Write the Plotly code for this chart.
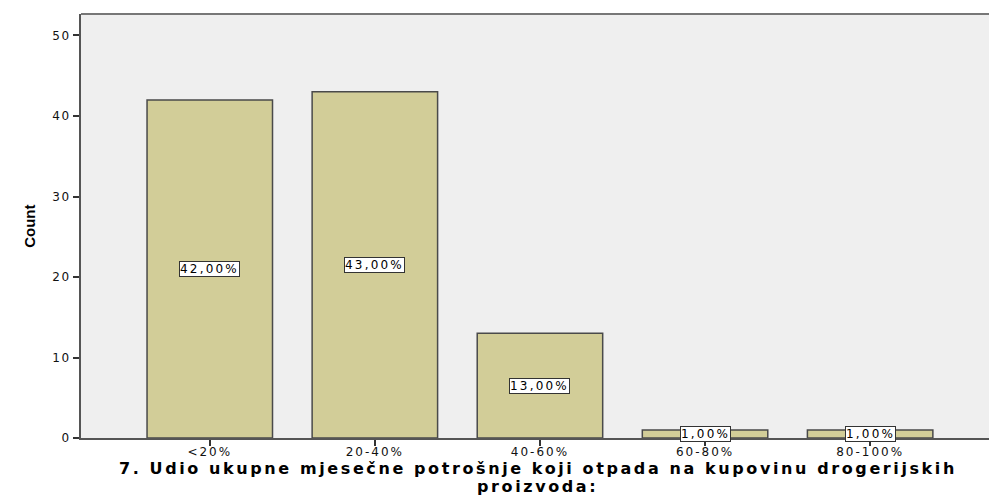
import plotly.graph_objects as go

categories = ["<20%", "20-40%", "40-60%", "60-80%", "80-100%"]
counts = [42, 43, 13, 1, 1]
pct_labels = ["42,00%", "43,00%", "13,00%", "1,00%", "1,00%"]
y_ticks = [0, 10, 20, 30, 40, 50]
title_lines = ["7. Udio ukupne mjesečne potrošnje koji otpada na kupovinu drogerijskih",
               "proizvoda:"]


def spaced(s, px):
    return f'<span style="letter-spacing:{px}px">{s}</span>'


fig = go.Figure()
fig.add_trace(go.Bar(
    x=list(range(len(categories))), y=counts, width=0.76,
    marker=dict(color="#D2CD98", line=dict(color="#4a4a4a", width=1.5)),
    hoverinfo="skip",
))

annotations = []
for i, (v, t) in enumerate(zip(counts, pct_labels)):
    annotations.append(dict(
        x=i, y=v / 2, xref="x", yref="y", text=spaced(t, 2.2), showarrow=False,
        font=dict(family="DejaVu Sans", size=12, color="#000"),
        bgcolor="white", bordercolor="#333", borderwidth=1, borderpad=0,
    ))

for line, ypos in zip(title_lines, [-0.0731, -0.1145]):
    annotations.append(dict(
        x=0.503, xref="paper", y=ypos, yref="paper", yanchor="middle", showarrow=False,
        text="<b>" + spaced(line, 2.6) + "</b>",
        font=dict(family="DejaVu Sans", size=16, color="#000"), align="center",
    ))
annotations.append(dict(
    x=-0.069, xref="paper", y=0.5, yref="paper", textangle=-90, showarrow=False,
    text="<b>Count</b>",
    font=dict(family="Liberation Sans Narrow, Liberation Sans, Arial", size=15, color="#000"),
))
fig.update_layout(annotations=annotations)

fig.update_layout(
    width=989, height=498,
    margin=dict(l=81, r=0, t=14, b=60),
    paper_bgcolor="white", plot_bgcolor="#EFEFEF",
    showlegend=False,
    xaxis=dict(
        range=[-0.78, 4.72], tickmode="array",
        tickvals=list(range(len(categories))),
        ticktext=[spaced(c, 2) for c in categories],
        ticks="outside", ticklen=6, tickcolor="#333", tickwidth=1.5,
        ticklabelstandoff=-4,
        showgrid=False, zeroline=False, showline=True, linecolor="#555", linewidth=2,
        tickfont=dict(family="DejaVu Sans", size=12, color="#111"),
        automargin=False,
    ),
    yaxis=dict(
        range=[0, 52.67], tickmode="array", tickvals=y_ticks,
        ticktext=[spaced(str(t), 1.5) for t in y_ticks],
        ticks="outside", ticklen=6, tickcolor="#333", tickwidth=1.5,
        showgrid=False, zeroline=False, showline=True, linecolor="#555", linewidth=2,
        tickfont=dict(family="DejaVu Sans", size=12, color="#111"),
        automargin=False,
    ),
    shapes=[dict(type="line", xref="paper", yref="paper", x0=0, x1=1, y0=1, y1=1,
                 line=dict(color="#777", width=2))],
)

fig.write_html("out.html", config={"displayModeBar": False},
               post_script="document.body.style.margin='0';")
